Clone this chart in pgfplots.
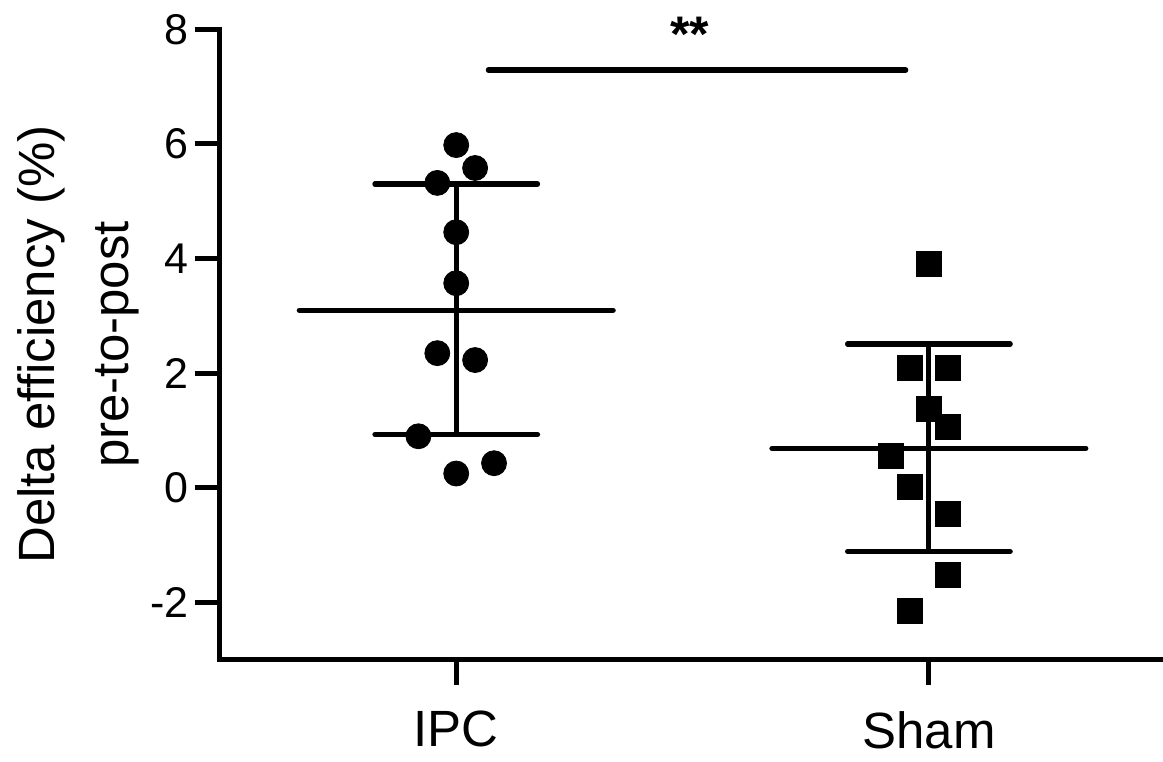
\documentclass[border=0pt]{standalone}
\usepackage{fontspec}
\setmainfont{Liberation Sans}
\usepackage{pgfplots}
\pgfplotsset{compat=1.18}

\begin{document}
\begin{tikzpicture}
\begin{axis}[
  name=ax,
  scale only axis,
  width=470.5pt, height=315.4pt,
  xmin=0.5, xmax=2.49,
  ymin=-3, ymax=8,
  axis lines=left,
  axis line style={-, line width=2.5pt, line cap=rect},
  xtick={1,2}, xticklabels={IPC,Sham},
  ytick={-2,0,2,4,6,8},
  tick align=outside,
  major tick length=12.5pt,
  tick style={line width=2.5pt, black},
  /pgf/number format/assume math mode=true,
  yticklabel style={font=\fontsize{21.5}{26}\selectfont, anchor=east, inner sep=0pt, xshift=-3pt},
  xticklabel style={font=\fontsize{25.5}{30}\selectfont, anchor=north, inner sep=0pt, yshift=-13pt},
  ylabel={Delta efficiency (\%)\\pre-to-post},
  ylabel style={font=\fontsize{25.5}{37}\selectfont, align=center,
    at={(axis description cs:-0.085,0.5)}, anchor=south, inner sep=0pt},
  clip=false,
]
% IPC
\addplot[only marks, mark=*, mark size=6.25pt, mark options={draw=none, fill=black}]
  coordinates {(1.00,5.98)(1.04,5.58)(0.96,5.32)(1.00,4.46)(1.00,3.57)
               (0.96,2.35)(1.04,2.23)(0.92,0.90)(1.00,0.25)(1.08,0.43)};
% Sham
\addplot[only marks, mark=square*, mark size=6.25pt, mark options={draw=none, fill=black}]
  coordinates {(2.00,3.90)(1.96,2.09)(2.04,2.10)(2.00,1.37)(2.04,1.06)
               (1.92,0.55)(1.96,0.01)(2.04,-0.45)(2.04,-1.51)(1.96,-2.14)};
% mean and SD
\addplot[line width=2.6pt, line cap=round] coordinates {(0.668,3.10)(1.332,3.10)};
\addplot[line width=2.6pt, line cap=round] coordinates {(0.828,5.30)(1.172,5.30)};
\addplot[line width=2.6pt, line cap=round] coordinates {(0.828,0.93)(1.172,0.93)};
\addplot[line width=2.6pt] coordinates {(1,0.93)(1,5.30)};
\addplot[line width=2.6pt, line cap=round] coordinates {(1.668,0.69)(2.332,0.69)};
\addplot[line width=2.6pt, line cap=round] coordinates {(1.828,2.51)(2.172,2.51)};
\addplot[line width=2.6pt, line cap=round] coordinates {(1.828,-1.11)(2.172,-1.11)};
\addplot[line width=2.6pt] coordinates {(2,-1.11)(2,2.51)};
% significance
\addplot[line width=2.6pt, line cap=round] coordinates {(1.068,7.29)(1.951,7.29)};
\node[font=\fontsize{25}{30}\selectfont\bfseries, anchor=base] at (axis cs:1.494,7.62) {**};
\end{axis}
\path ([shift={(-110pt,-51pt)}]ax.south west) rectangle ([shift={(1pt,14.65pt)}]ax.north east);
\end{tikzpicture}
\end{document}
